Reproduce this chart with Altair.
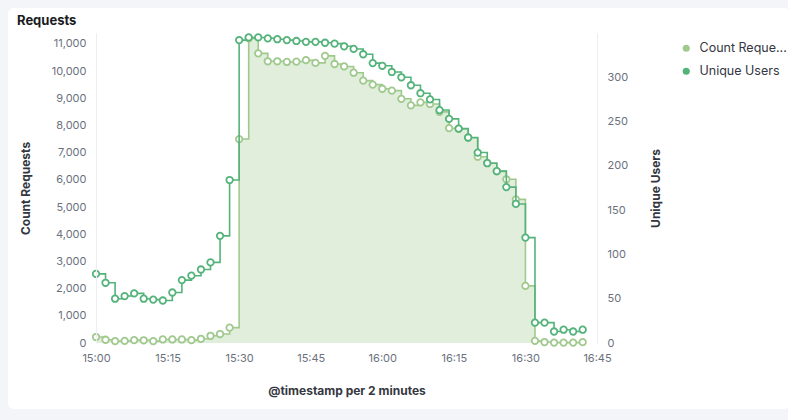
import altair as alt
import pandas as pd

# ---------------- data ----------------
times = ["15:00", "15:02", "15:04", "15:06", "15:08", "15:10", "15:12", "15:14",
         "15:16", "15:18", "15:20", "15:22", "15:24", "15:26", "15:28", "15:30",
         "15:32", "15:34", "15:36", "15:38", "15:40", "15:42", "15:44", "15:46",
         "15:48", "15:50", "15:52", "15:54", "15:56", "15:58", "16:00", "16:02",
         "16:04", "16:06", "16:08", "16:10", "16:12", "16:14", "16:16", "16:18",
         "16:20", "16:22", "16:24", "16:26", "16:28", "16:30", "16:32", "16:34",
         "16:36", "16:38", "16:40", "16:42"]

count_requests = [220, 120, 70, 80, 105, 100, 70, 130, 130, 130, 105, 155, 265, 330,
                  565, 7500, 11200, 10650, 10360, 10360, 10335, 10350, 10400, 10300,
                  10560, 10260, 10170, 9940, 9650, 9500, 9350, 9280, 8980, 8740, 8850,
                  8790, 8500, 7900, 7880, 7550, 6850, 6620, 6310, 6020, 5280, 2100,
                  80, 35, 15, 15, 15, 30]

unique_users = [78, 68, 50, 53, 56, 50, 49, 48, 57, 71, 76, 83, 91, 121, 184, 342,
                345, 345, 344, 343, 342, 341, 340, 340, 339, 338, 335, 332, 326, 316,
                313, 306, 300, 291, 282, 275, 263, 253, 242, 232, 215, 203, 194, 176,
                157, 119, 23, 23, 13, 15, 13, 15]

x_tick_labels = ["15:00", "15:15", "15:30", "15:45", "16:00", "16:15", "16:30", "16:45"]
left_ticks = [0, 1000, 2000, 3000, 4000, 5000, 6000, 7000, 8000, 9000, 10000, 11000]
right_ticks = [0, 50, 100, 150, 200, 250, 300]
series_names = ["Count Requests", "Unique Users"]
series_colors = ["#a0c98e", "#54b37a"]

DAY = "2024-01-01T"
df = pd.DataFrame({
    "t": [DAY + t + ":00" for t in times],
    "count": count_requests,
    "users": unique_users,
})


def dt(s):
    h, m = s.split(":")
    return alt.DateTime(year=2024, month=1, date=1, hours=int(h), minutes=int(m))


FONT = "Inter"
LABEL_COLOR = "#6a717d"
TITLE_COLOR = "#343741"

W, H = 501, 310
PAD = {"left": 96, "top": 33, "right": 788 - 96 - W, "bottom": 420 - 33 - H}

x_enc = alt.X(
    "t:T",
    scale=alt.Scale(domain=[dt(x_tick_labels[0]), dt(x_tick_labels[-1])]),
    axis=alt.Axis(
        values=[dt(s) for s in x_tick_labels], format="%H:%M",
        title="@timestamp per 2 minutes", grid=False, domain=False, ticks=False,
        tickSize=0, labelPadding=9, titlePadding=22, labelFlush=False, zindex=2,
    ),
)

left_scale = alt.Scale(domain=[0, 11400], nice=False, zero=True)
right_scale = alt.Scale(domain=[0, 350], nice=False, zero=True)


def left_axis():
    return alt.Axis(values=left_ticks, format=",.0f", title="Count Requests",
                    grid=False, ticks=False, tickSize=0, domain=True, labelOverlap=False,
                    domainColor="#eceef2", labelPadding=10, titlePadding=19, zindex=2)


def right_axis():
    return alt.Axis(values=right_ticks, format="d", title="Unique Users", orient="right",
                    grid=False, ticks=False, tickSize=0, domain=True, labelOverlap=False,
                    domainColor="#eceef2", labelPadding=10, titlePadding=35,
                    titleAngle=270, zindex=2)


base = alt.Chart(df).encode(x=x_enc)

c_color, u_color = series_colors

count_area = base.mark_area(interpolate="step-after", color=c_color, opacity=0.32).encode(
    y=alt.Y("count:Q", scale=left_scale, axis=left_axis())
)
count_line = base.mark_line(interpolate="step-after", color=c_color, strokeWidth=1.6).encode(
    y=alt.Y("count:Q", scale=left_scale, axis=left_axis())
)
count_pts = base.mark_circle(size=42, fill="white", stroke=c_color, strokeWidth=1.8,
                             opacity=1).encode(
    y=alt.Y("count:Q", scale=left_scale, axis=left_axis()))

users_line = base.mark_line(interpolate="step-after", color=u_color, strokeWidth=1.6).encode(
    y=alt.Y("users:Q", scale=right_scale, axis=right_axis())
)
users_pts = base.mark_circle(size=42, fill="white", stroke=u_color, strokeWidth=1.8,
                             opacity=1).encode(
    y=alt.Y("users:Q", scale=right_scale, axis=right_axis()))

left_layer = alt.layer(count_area, count_line, count_pts)
right_layer = alt.layer(users_line, users_pts)

legend_layer = alt.Chart(pd.DataFrame({"series": series_names})).transform_filter(
    "false"
).mark_circle(opacity=1).encode(
    color=alt.Color(
        "series:N",
        scale=alt.Scale(domain=series_names, range=series_colors),
        legend=alt.Legend(
            orient="none", legendX=584, legendY=9, title=None, symbolType="circle",
            symbolSize=50, symbolStrokeWidth=0, labelFont=FONT, labelFontSize=12.5,
            labelColor=TITLE_COLOR, labelOffset=7, rowPadding=10, padding=0,
            labelExpr="datum.label == 'Count Requests' ? 'Count Reque...' : datum.label",
        ),
    )
)

panel = alt.Chart(pd.DataFrame({"a": [0]})).mark_rect(
    color="white", cornerRadius=6
).encode(
    x=alt.value(8 - PAD["left"]), x2=alt.value(790 - PAD["left"]),
    y=alt.value(8 - PAD["top"]), y2=alt.value(409 - PAD["top"]),
)

chart = alt.layer(panel, left_layer, right_layer, legend_layer).resolve_scale(
    y="independent"
).properties(
    width=W, height=H,
    title=alt.TitleParams("Requests", anchor="start", frame="group", dx=-79,
                          offset=0, dy=20, font=FONT, fontSize=13, fontWeight="bold",
                          color="#1a1c21"),
    padding=PAD,
    autosize=alt.AutoSizeParams(type="none"),
    background="#f4f5f8",
).configure_view(stroke=None).configure_axis(
    labelFont=FONT, labelFontSize=11, labelColor=LABEL_COLOR,
    titleFont=FONT, titleFontSize=12, titleFontWeight="bold", titleColor=TITLE_COLOR,
)

chart.save("out.html", embed_options={"renderer": "svg", "actions": False})
